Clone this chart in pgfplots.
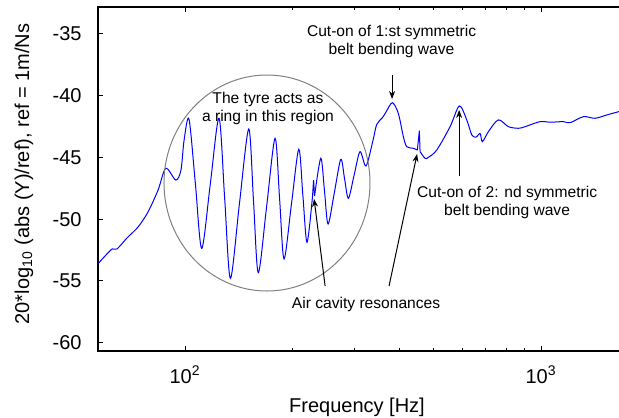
\documentclass[border=0pt]{standalone}
\usepackage{pgfplots}
\pgfplotsset{compat=1.18}
\usepackage{fontspec}
\setmainfont{Liberation Sans}
\usetikzlibrary{arrows.meta}
\definecolor{curveblue}{RGB}{0,0,255}
\begin{document}
\begin{tikzpicture}
\begin{axis}[
  at={(0pt,0pt)}, anchor=south west,
  scale only axis, width=263pt, height=172pt,
  xmode=log, xmin=56.96, xmax=1710,
  ymin=-60.67, ymax=-32.82,
  xtick={100,1000}, xticklabels={10\textsuperscript{2},10\textsuperscript{3}},
  ytick={-60,-55,-50,-45,-40,-35}, yticklabels={-60,-55,-50,-45,-40,-35},
  tick align=inside,
  major tick length=2.5pt, minor tick length=1.5pt,
  axis line style={line width=0.8pt},
  every tick/.style={black, line width=0.5pt},
  tick label style={font=\fontsize{10}{12}\selectfont},
  xticklabel style={anchor=base, yshift=-16pt},
  yticklabel style={anchor=east, xshift=-4.7pt},
  xlabel={Frequency [Hz]},
  xlabel style={font=\fontsize{10}{12}\selectfont, at={(rel axis cs:0.5,0)}, anchor=base, yshift=-30.5pt, xshift=-2pt},
  ylabel={20*log\textsubscript{10} (abs (Y)/ref), ref = 1m/Ns},
  ylabel style={font=\fontsize{10}{12}\selectfont, at={(rel axis cs:0,0.5)}, anchor=center, yshift=37pt, xshift=2.5pt},
  clip=true,
]
\addplot[curveblue, line width=0.5pt, smooth, tension=0.5] coordinates {
(57.1,-53.57) (58.9,-53.14) (62.4,-52.41) (64.4,-52.41) (68.7,-51.52)
(73.8,-50.63) (78.7,-49.42) (84.0,-47.64) (88.3,-45.88) (94.2,-46.83)
(97.4,-46.02) (99.4,-43.59) (102.6,-41.91) (106.9,-47.1) (111.4,-52.36)
(117.8,-47.1) (124.6,-41.83) (129.2,-48.3) (134.1,-54.79) (142.2,-48.7)
(151.0,-42.70) (155.7,-48.5) (160.6,-54.33) (169.6,-48.9) (179.0,-43.45)
(184.3,-48.3) (189.7,-53.22) (199.0,-48.8) (208.7,-44.34) (214.3,-48.1)
(220.1,-51.87) (228.1,-48.12)
};
\addplot[curveblue, line width=0.5pt] coordinates {
(228.1,-48.12) (229.6,-46.83) (231.1,-48.12)
};
\addplot[curveblue, line width=0.5pt, smooth, tension=0.5] coordinates {
(231.1,-48.12) (240.6,-45.07) (246.4,-47.7) (252.2,-50.39) (262.8,-47.8)
(273.8,-45.15) (280.5,-46.7) (287.6,-48.31) (298.6,-46.4) (310.1,-44.53)
(322.4,-45.69) (337.4,-43.59) (345.5,-42.33) (358.7,-41.77) (366.9,-41.32)
(382.2,-40.57) (397.3,-41.43) (410.4,-43.32) (419.5,-44.13) (437.8,-44.26)
(449.3,-44.40)
};
\addplot[curveblue, line width=0.5pt] coordinates {
(449.3,-44.40) (455.1,-42.83) (457.2,-44.53)
};
\addplot[curveblue, line width=0.5pt, smooth, tension=0.5] coordinates {
(457.2,-44.53) (472.3,-45.07) (482.5,-44.99) (509.3,-44.40) (555.2,-42.51)
(589.6,-40.83) (618.5,-41.97) (638.9,-43.18) (656.9,-43.35) (674.2,-43.06)
(684.3,-43.72) (711.4,-42.91) (758.7,-41.96) (809.5,-42.51) (863.6,-42.64)
(901.8,-42.51) (993.6,-42.10) (1060,-42.15) (1155,-42.10) (1206,-42.19)
(1315,-41.70) (1418,-41.83) (1530,-41.56) (1649,-41.30) (1710,-41.2)
};
% circle
\draw[gray, line width=0.5pt] (axis cs:169.9,-47.07) ellipse [x radius=51.5pt, y radius=54pt];
% texts
\node[align=center, font=\fontsize{7.8}{9}\selectfont] at (axis cs:171.0,-41.0) {The tyre acts as\\a ring in this region};
\node[align=center, font=\fontsize{7.8}{9}\selectfont] at (axis cs:380.2,-35.65) {Cut-on of 1:st symmetric\\belt bending wave};
\node[align=center, font=\fontsize{7.8}{9}\selectfont] at (axis cs:802.8,-48.65) {Cut-on of 2: nd symmetric\\belt bending wave};
\node[font=\fontsize{7.8}{9}\selectfont] at (axis cs:322.4,-56.87) {Air cavity resonances};
% arrows
\draw[-{Stealth[length=4pt,width=3pt]}, line width=0.5pt] (axis cs:381.5,-38.32) -- (axis cs:381.5,-40.27);
\draw[-{Stealth[length=4pt,width=3pt]}, line width=0.5pt] (axis cs:588.6,-46.50) -- (axis cs:588.6,-41.16);
\draw[-{Stealth[length=4pt,width=3pt]}, line width=0.5pt] (axis cs:247.4,-55.41) -- (axis cs:230.4,-48.36);
\draw[-{Stealth[length=4pt,width=3pt]}, line width=0.5pt] (axis cs:374.1,-55.41) -- (axis cs:448.5,-44.72);
\end{axis}
\pgfresetboundingbox
\path[use as bounding box] (-49pt,-33pt) rectangle (260.5pt,175.5pt);
\end{tikzpicture}
\end{document}
